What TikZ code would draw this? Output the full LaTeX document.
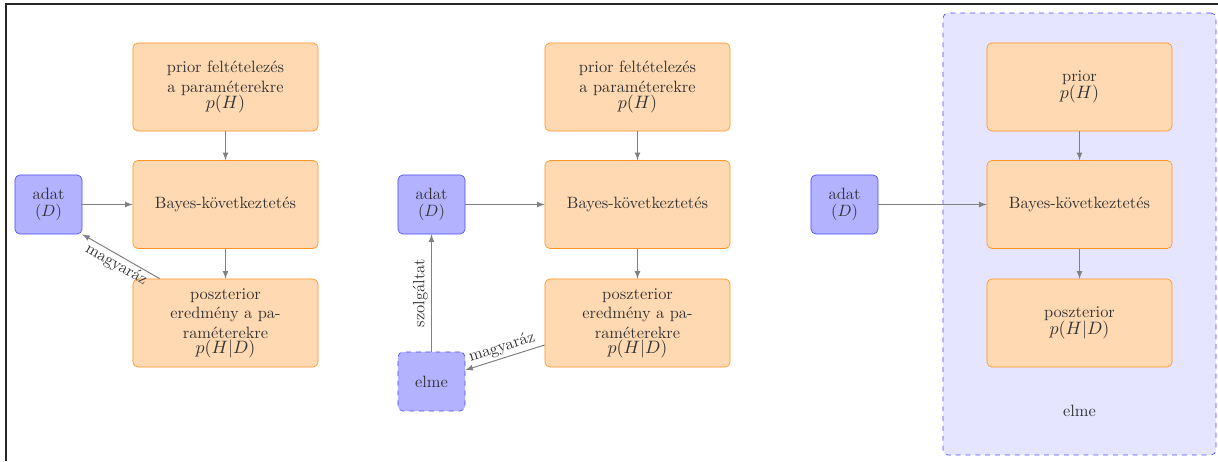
\documentclass[tikz,border=0pt]{standalone}
\usepackage[utf8]{inputenc}
\usetikzlibrary{positioning}

\newcommand{\nagyobb}[1]{{\fontsize{11.4}{13}\selectfont$#1$}}

\begin{document}
\begin{tikzpicture}[x=0.61pt, y=-0.61pt,
	orangebox/.style={draw=orange!85, fill=orange!30, rounded corners=3pt, align=center,
		minimum width=112.9pt, minimum height=53.7pt, text=black!80},
	bluebox/.style={draw=blue!70, fill=blue!30, rounded corners=3pt, align=center,
		minimum width=40.9pt, minimum height=36pt, text=black!80},
	conn/.style={draw=gray, ->, >=latex, line width=0.6pt},
	lbl/.style={text=black!80, font=\normalsize}]

	\useasboundingbox (0,0) rectangle (1218,461);
	\draw[black!85, line width=0.8pt] (1218,4) -- (6,4) -- (6,461);

	% first picture
	\node[orangebox] (prior1) at (225.5,87) {prior feltételezés\\a paraméterekre\\[-2pt]\nagyobb{p(H)}};
	\node[orangebox] (bayes1) at (225.5,204.5) {Bayes-következtetés};
	\node[orangebox] (poszt1) at (225.5,323) {poszterior\\eredmény a pa-\\raméterekre\\[-3pt]\nagyobb{p(H|D)}};
	\node[bluebox] (adat1) at (48.5,204.5) {adat\\[-2pt]$(D)$};

	\draw[conn] (prior1) -- (bayes1);
	\draw[conn] (bayes1) -- (poszt1);
	\draw[conn] (adat1) -- (bayes1);
	\draw[conn] ([xshift=16.5pt]poszt1.north west) -- (adat1.south east)
		node[lbl, midway, sloped, below, inner sep=1pt] {magyaráz};

	% second picture
	\node[orangebox] (prior2) at (637.5,87) {prior feltételezés\\a paraméterekre\\[-2pt]\nagyobb{p(H)}};
	\node[orangebox] (bayes2) at (637.5,204.5) {Bayes-következtetés};
	\node[orangebox] (poszt2) at (637.5,323) {poszterior\\eredmény a pa-\\raméterekre\\[-3pt]\nagyobb{p(H|D)}};
	\node[bluebox] (adat2) at (431.5,204.5) {adat\\[-2pt]$(D)$};
	\node[bluebox, dashed] (elme2) at (431.5,381.5) {elme};

	\draw[conn] (prior2) -- (bayes2);
	\draw[conn] (bayes2) -- (poszt2);
	\draw[conn] (adat2) -- (bayes2);
	\draw[conn] ([yshift=-13.4pt]poszt2.west) -- ([yshift=7pt]elme2.east)
		node[lbl, midway, sloped, above, inner sep=1.5pt] {magyaráz};
	\draw[conn] (elme2) -- (adat2)
		node[lbl, midway, sloped, above, inner sep=2pt] {szolgáltat};

	% third picture
	\node[draw=blue!70, dashed, fill=blue!10, rounded corners=3pt,
		minimum width=166.5pt, minimum height=269.6pt] (elme3) at (1079.5,234) {};
	\node[lbl, above=20pt of elme3.south] (elmetxt) {elme};
	\node[orangebox] (prior3) at (1079.5,87) {prior\\[-2pt]\nagyobb{p(H)}};
	\node[orangebox] (bayes3) at (1079.5,204.5) {Bayes-következtetés};
	\node[orangebox] (poszt3) at (1079.5,323) {poszterior\\[-2pt]\nagyobb{p(H|D)}};
	\node[bluebox] (adat3) at (844.5,204.5) {adat\\[-2pt]$(D)$};

	\draw[conn] (prior3) -- (bayes3);
	\draw[conn] (bayes3) -- (poszt3);
	\draw[conn] (adat3) -- (bayes3);

\end{tikzpicture}
\end{document}
